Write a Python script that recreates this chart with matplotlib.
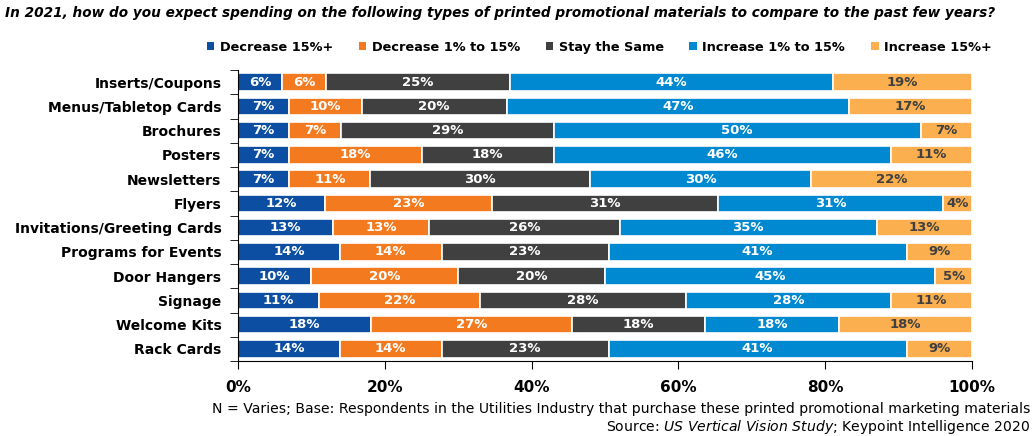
import numpy as np
import matplotlib.pyplot as plt
from matplotlib.patches import Patch

categories = ['Inserts/Coupons', 'Menus/Tabletop Cards', 'Brochures', 'Posters',
              'Newsletters', 'Flyers', 'Invitations/Greeting Cards', 'Programs for Events',
              'Door Hangers', 'Signage', 'Welcome Kits', 'Rack Cards']
series = ['Decrease 15%+', 'Decrease 1% to 15%', 'Stay the Same',
          'Increase 1% to 15%', 'Increase 15%+']
dec15 = [6, 7, 7, 7, 7, 12, 13, 14, 10, 11, 18, 14]
dec1_15 = [6, 10, 7, 18, 11, 23, 13, 14, 20, 22, 27, 14]
same = [25, 20, 29, 18, 30, 31, 26, 23, 20, 28, 18, 23]
inc1_15 = [44, 47, 50, 46, 30, 31, 35, 41, 45, 28, 18, 41]
inc15 = [19, 17, 7, 11, 22, 4, 13, 9, 5, 11, 18, 9]

colors = ['#0B4EA2', '#F47A20', '#404040', '#0088D1', '#FBAF4F']
text_colors = ['white', 'white', 'white', 'white', '#404040']

plt.rcParams['font.family'] = ['DejaVu Sans']

data = np.array([dec15, dec1_15, same, inc1_15, inc15], dtype=float)
# scale each row to 100% so every bar fills the axis
shares = data / data.sum(axis=0) * 100

fig = plt.figure(figsize=(10.33, 4.36), dpi=100)
ax = fig.add_axes([0.2304, 0.172, 0.7106, 0.6674])

y = np.arange(len(categories))
left = np.zeros(len(categories))
for i, name in enumerate(series):
    ax.barh(y, shares[i], left=left, height=0.72, color=colors[i],
            edgecolor='white', linewidth=1.2, label=name)
    for j in range(len(categories)):
        ax.text(left[j] + shares[i][j] / 2, y[j], f'{int(data[i][j])}%',
                ha='center', va='center', fontsize=9.5, fontweight='bold',
                color=text_colors[i])
    left += shares[i]

ax.set_xlim(0, 100)
ax.set_ylim(len(categories) - 0.5, -0.5)
ax.set_xticks(np.arange(0, 101, 20))
ax.set_xticklabels([f'{v}%' for v in range(0, 101, 20)], fontsize=11, fontweight='bold')
ax.set_yticks(y)
ax.set_yticklabels(categories, fontsize=10, fontweight='bold')
ax.set_yticks(np.arange(-0.5, len(categories), 1), minor=True)
ax.tick_params(axis='y', which='major', length=0, pad=12)
ax.tick_params(axis='y', which='minor', length=6, color='black')
ax.tick_params(axis='x', length=6, pad=8)
for s in ['top', 'right']:
    ax.spines[s].set_visible(False)

handles = [Patch(facecolor=c, label=n) for c, n in zip(colors, series)]
fig.legend(handles=handles, loc='center', bbox_to_anchor=(0.58, 0.892), ncol=5,
           frameon=False, handlelength=0.6, handleheight=0.6, handletextpad=0.4,
           columnspacing=2.0, prop={'weight': 'bold', 'size': 9.3})

fig.text(0.005, 0.97, 'In 2021, how do you expect spending on the following types of printed '
         'promotional materials to compare to the past few years?',
         ha='left', va='center', fontsize=9.8, fontweight='bold', style='italic')
fig.text(0.997, 0.062, 'N = Varies; Base: Respondents in the Utilities Industry that purchase '
         'these printed promotional marketing materials', ha='right', va='center', fontsize=10.1)
fig.text(0.997, 0.021, 'Source: $\\it{US\\ Vertical\\ Vision\\ Study}$; Keypoint Intelligence 2020',
         ha='right', va='center', fontsize=10.1)

fig.savefig('out.png', dpi=100)
